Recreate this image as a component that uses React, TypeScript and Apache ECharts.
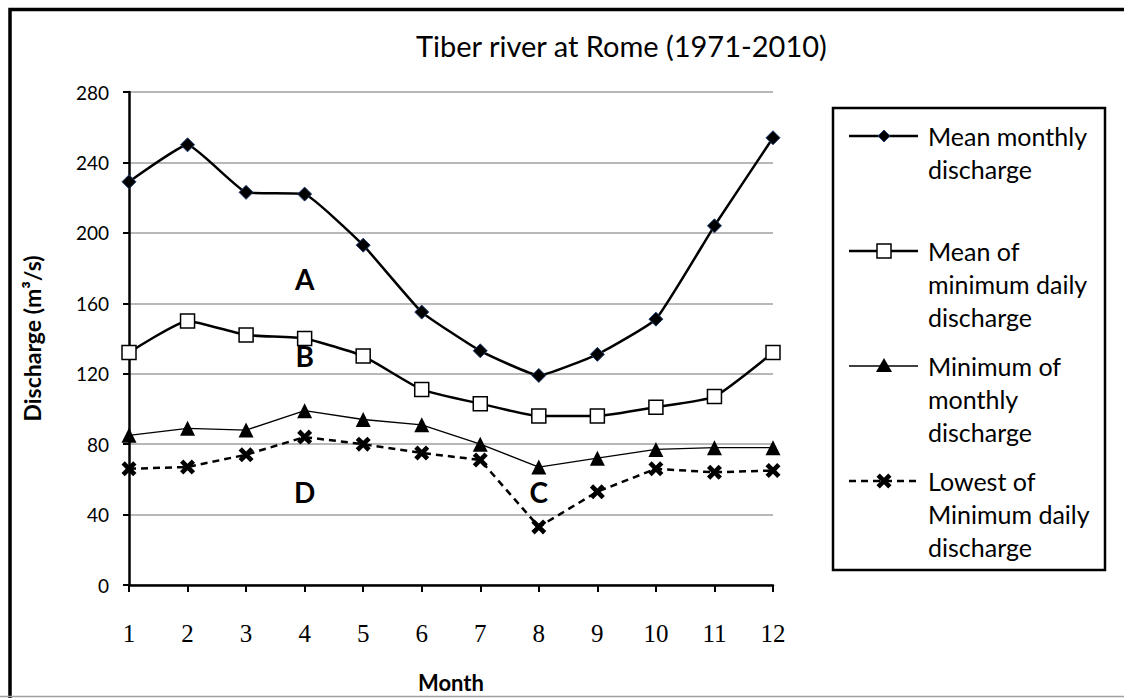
import React, { useEffect, useRef } from "react";
import * as echarts from "echarts";

const months = ["1", "2", "3", "4", "5", "6", "7", "8", "9", "10", "11", "12"];
const meanMonthly = [229, 250, 223, 222, 193, 155, 133, 119, 131, 151, 204, 254];
const meanMinDaily = [132, 150, 142, 140, 130, 111, 103, 96, 96, 101, 107, 132];
const minMonthly = [85, 89, 88, 99, 94, 91, 80, 67, 72, 77, 78, 78];
const lowestMinDaily = [66, 67, 74, 84, 80, 75, 71, 33, 53, 66, 64, 65];

const seriesNames = [
  "Mean monthly discharge",
  "Mean of minimum daily discharge",
  "Minimum of monthly discharge",
  "Lowest of Minimum daily discharge",
];
const legendLines = [
  ["Mean monthly", "discharge"],
  ["Mean of", "minimum daily", "discharge"],
  ["Minimum of", "monthly", "discharge"],
  ["Lowest of", "Minimum daily", "discharge"],
];

const yTicks = { min: 0, max: 280, interval: 40 };

const zoneLabels = ["A", "B", "C", "D"];
const zoneMonths = ["4", "4", "8", "4"];
const zoneValues = [174, 130, 53, 53];

const X_PATH =
  "path://M0,2.2 L2.2,0 L5,2.8 L7.8,0 L10,2.2 L7.2,5 L10,7.8 L7.8,10 L5,7.2 L2.2,10 L0,7.8 L2.8,5 Z";

const SANS = "Lato, 'Open Sans', sans-serif";

export default function App() {
  const ref = useRef<HTMLDivElement>(null);

  useEffect(() => {
    document.body.style.margin = "0";
    const chart = echarts.init(ref.current!, undefined, { renderer: "svg" });

    const option: any = {
      animation: false,
      backgroundColor: "#ffffff",
      title: {
        text: "Tiber river at Rome (1971-2010)",
        left: 416,
        top: 31,
        padding: 0,
        textStyle: { fontFamily: SANS, fontSize: 29, fontWeight: "normal", color: "#000" },
      },
      grid: { left: 129, right: 351, top: 92, bottom: 103, containLabel: false },
      xAxis: {
        type: "category",
        data: months,
        boundaryGap: false,
        name: "Month",
        nameLocation: "middle",
        nameGap: 86,
        nameTextStyle: { fontFamily: SANS, fontSize: 22, fontWeight: "bold", color: "#000" },
        axisLine: { lineStyle: { color: "#000", width: 2.5 } },
        axisTick: { show: true, length: 7, lineStyle: { color: "#000", width: 2 } },
        axisLabel: {
          margin: 36,
          fontFamily: "'Liberation Serif', serif",
          fontSize: 25,
          color: "#000",
        },
        splitLine: { show: false },
      },
      yAxis: {
        type: "value",
        min: yTicks.min,
        max: yTicks.max,
        interval: yTicks.interval,
        name: "Discharge (m³/s)",
        nameLocation: "middle",
        nameGap: 86,
        nameTextStyle: { fontFamily: SANS, fontSize: 23, fontWeight: "bold", color: "#000" },
        axisLine: { show: true, lineStyle: { color: "#000", width: 2.5 } },
        axisTick: { show: true, length: 6, lineStyle: { color: "#000", width: 2 } },
        axisLabel: { margin: 20, fontFamily: SANS, fontSize: 19, color: "#000" },
        splitLine: { show: true, lineStyle: { color: "#a0a0a0", width: 1.5 } },
      },
      series: [
        {
          name: seriesNames[0],
          type: "line",
          data: meanMonthly,
          smooth: 0.12,
          symbol: "diamond",
          symbolSize: 14,
          showAllSymbol: true,
          lineStyle: { color: "#000", width: 2.5 },
          itemStyle: { color: "#000", borderColor: "#1f3b70", borderWidth: 1 },
        },
        {
          name: seriesNames[1],
          type: "line",
          data: meanMinDaily,
          smooth: 0.15,
          symbol: "rect",
          symbolSize: 14,
          showAllSymbol: true,
          lineStyle: { color: "#000", width: 2.5 },
          itemStyle: { color: "#fff", borderColor: "#000", borderWidth: 1.5 },
        },
        {
          name: seriesNames[2],
          type: "line",
          data: minMonthly,
          symbol: "triangle",
          symbolSize: 15,
          showAllSymbol: true,
          lineStyle: { color: "#000", width: 1.3 },
          itemStyle: { color: "#000" },
        },
        {
          name: seriesNames[3],
          type: "line",
          data: lowestMinDaily,
          symbol: X_PATH,
          symbolSize: 15,
          showAllSymbol: true,
          lineStyle: { color: "#000", width: 2.5, type: [7, 5] },
          itemStyle: { color: "#000" },
        },
      ],
    };
    chart.setOption(option);

    const graphics: any[] = [];
    // outer frame (top and left edges visible)
    graphics.push({
      type: "polyline",
      shape: { points: [[10, 698], [10, 9.5], [1124, 9.5]] },
      style: { fill: "none", stroke: "#000", lineWidth: 3.5 },
      silent: true,
    });
    graphics.push({
      type: "line",
      shape: { x1: 0, y1: 696.5, x2: 1124, y2: 696.5 },
      style: { stroke: "#a0a0a0", lineWidth: 1.5 },
      silent: true,
    });
    // legend box
    graphics.push({
      type: "rect",
      shape: { x: 833, y: 108, width: 272, height: 462 },
      style: { fill: "#fff", stroke: "#000", lineWidth: 2.5 },
    });
    const itemY = [136, 251, 366, 481];
    const lx1 = 849,
      lx2 = 918,
      mx = 884;
    itemY.forEach((y, i) => {
      graphics.push({
        type: "line",
        shape: { x1: lx1, y1: y, x2: lx2, y2: y },
        style: {
          stroke: "#000",
          lineWidth: i === 2 ? 1.3 : 2.5,
          lineDash: i === 3 ? [7, 5] : null,
        },
      });
      if (i === 0) {
        graphics.push({
          type: "polygon",
          shape: { points: [[mx, y - 6], [mx + 6, y], [mx, y + 6], [mx - 6, y]] },
          style: { fill: "#000", stroke: "#1f3b70", lineWidth: 1 },
        });
      } else if (i === 1) {
        graphics.push({
          type: "rect",
          shape: { x: mx - 7, y: y - 7, width: 14, height: 14 },
          style: { fill: "#fff", stroke: "#000", lineWidth: 1.5 },
        });
      } else if (i === 2) {
        graphics.push({
          type: "polygon",
          shape: { points: [[mx, y - 8], [mx + 8, y + 6], [mx - 8, y + 6]] },
          style: { fill: "#000" },
        });
      } else {
        const s = 7.5,
          t = 3.3;
        graphics.push({
          type: "polygon",
          shape: {
            points: [
              [mx - s, y - s + t],
              [mx - s + t, y - s],
              [mx, y - s + t * 1.27],
              [mx + s - t, y - s],
              [mx + s, y - s + t],
              [mx + s - t * 1.27, y],
              [mx + s, y + s - t],
              [mx + s - t, y + s],
              [mx, y + s - t * 1.27],
              [mx - s + t, y + s],
              [mx - s, y + s - t],
              [mx - s + t * 1.27, y],
            ],
          },
          style: { fill: "#000" },
        });
      }
      legendLines[i].forEach((txt, j) => {
        graphics.push({
          type: "text",
          x: 928,
          y: y + j * 33,
          style: {
            text: txt,
            fontFamily: SANS,
            fontSize: 25,
            fill: "#000",
            textAlign: "left",
            textVerticalAlign: "middle",
          },
        });
      });
    });
    // zone labels A-D placed at data coordinates
    zoneLabels.forEach((lab, i) => {
      const p = chart.convertToPixel({ gridIndex: 0 }, [zoneMonths[i], zoneValues[i]]);
      graphics.push({
        type: "text",
        x: p[0],
        y: p[1],
        style: {
          text: lab,
          fontFamily: SANS,
          fontSize: 28,
          fontWeight: "bold",
          fill: "#000",
          textAlign: "center",
          textVerticalAlign: "middle",
        },
      });
    });
    chart.setOption({ graphic: graphics });

    return () => chart.dispose();
  }, []);

  return <div ref={ref} style={{ width: 1124, height: 698 }} />;
}
